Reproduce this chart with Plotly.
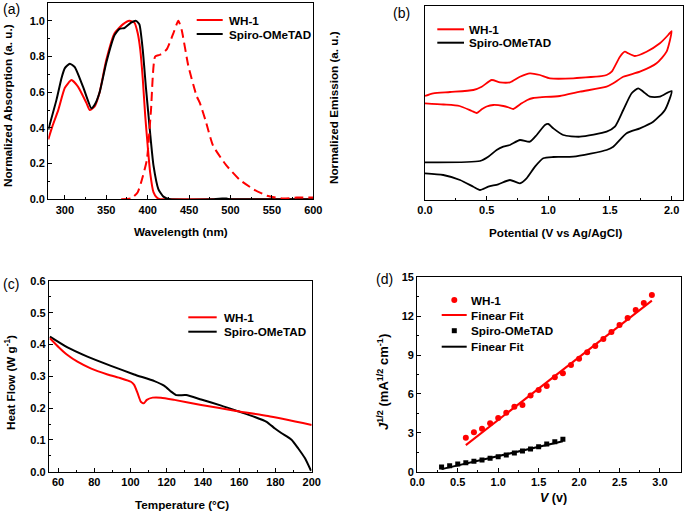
import plotly.graph_objects as go

W, H = 687, 512
RED = "#FF0000"
BLK = "#000000"
FONT = "Arial, Liberation Sans, sans-serif"

# ---------------- (a) absorption / emission ----------------
abs_wl_wh1 = [280, 285, 292, 300, 308, 316, 326, 330, 336, 342, 350, 360, 370, 378, 384, 388, 391, 394,
              397, 400, 403, 407, 411, 415, 420, 600]
abs_wh1 = [0.336, 0.41, 0.50, 0.625, 0.668, 0.63, 0.54, 0.50, 0.52, 0.60, 0.78, 0.93, 0.98, 1.0, 0.99,
           0.93, 0.84, 0.68, 0.47, 0.30, 0.15, 0.04, 0.01, 0.0, 0.0, 0.0]
abs_wl_spiro = [280, 290, 296, 300, 306, 312, 322, 332, 336, 342, 350, 360, 366, 372, 380, 386, 390, 394,
                398, 401, 404, 407, 413, 419, 427, 480, 490, 495, 500, 510, 600]
abs_spiro = [0.39, 0.56, 0.68, 0.735, 0.76, 0.74, 0.63, 0.51, 0.53, 0.60, 0.765, 0.92, 0.955, 0.96, 0.99,
             1.0, 0.98, 0.84, 0.62, 0.47, 0.32, 0.19, 0.056, 0.015, 0.0, 0.0, 0.004, 0.004, 0.0, 0.0, 0.0]
em_wl = [368, 380, 388, 393, 399, 404, 409, 415, 423, 431, 437, 441, 449, 459, 463, 470, 479, 495, 511,
         528, 544, 564, 580, 600]
em_wh1 = [0.0, 0.005, 0.04, 0.11, 0.22, 0.50, 0.80, 0.81, 0.84, 0.93, 1.0, 0.95, 0.75, 0.58, 0.54, 0.44,
          0.30, 0.19, 0.11, 0.056, 0.02, 0.004, 0.01, 0.01]

# ---------------- (b) cyclic voltammetry (arbitrary current units) ----------------
cv_v_wh1 = [0.0, 0.067, 0.203, 0.392, 0.46, 0.541, 0.608, 0.689, 0.77, 0.851, 0.932, 1.013, 1.202, 1.473,
            1.514, 1.581, 1.621, 1.648, 1.702, 1.797, 1.905, 1.972, 2.0,
            1.959, 1.878, 1.743, 1.608, 1.527, 1.473, 1.257, 1.094, 0.932, 0.878, 0.83, 0.784, 0.716,
            0.68, 0.635, 0.554, 0.50, 0.46, 0.42, 0.38, 0.28, 0.15, 0.0]
cv_i_wh1 = [104, 106.7, 108, 110, 113.3, 120, 117.7, 117.7, 123.3, 126.7, 125, 121.7, 121.7, 125,
            128.3, 143.3, 148.3, 146.7, 144, 148.3, 156.7, 165, 169,
            148.3, 136.7, 128.3, 123.3, 116.7, 113.3, 108.3, 104, 102.7, 102, 100, 96.7, 91,
            92.5, 94, 95, 93.5, 90.7, 87, 89, 94, 95.5, 96.7]
cv_v_spiro = [0.0, 0.446, 0.513, 0.581, 0.635, 0.689, 0.77, 0.851, 0.906, 0.973, 1.0, 1.04, 1.121, 1.257,
              1.473, 1.54, 1.608, 1.676, 1.729, 1.77, 1.824, 1.905, 2.0,
              1.946, 1.851, 1.743, 1.635, 1.527, 1.473, 1.202, 1.04, 0.959, 0.892, 0.824, 0.77, 0.689,
              0.594, 0.513, 0.446, 0.392, 0.284, 0.148, 0.0]
cv_i_spiro = [37.7, 39, 43.3, 50, 53.3, 55, 60, 58.3, 65, 75, 76, 71.7, 65, 63.3,
              68.3, 73.3, 90, 106.7, 111.7, 108.3, 103.3, 103.3, 109,
              90, 78.3, 71.7, 66.7, 53.3, 50, 43.3, 43, 41.7, 33.3, 21.7, 16.7, 20,
              15.7, 13.3, 10, 13.3, 20, 25, 26.7]

# ---------------- (c) DSC ----------------
dsc_t_wh1 = [55.5, 60.5, 65.2, 70.7, 78, 87.3, 94.6, 100.2, 102, 103.9, 105.7, 107.3, 109, 112.2, 116.8,
             124.2, 139, 157.5, 175.9, 200]
dsc_wh1 = [0.42, 0.391, 0.367, 0.346, 0.325, 0.306, 0.294, 0.283, 0.273, 0.247, 0.22, 0.215, 0.226,
           0.233, 0.233, 0.226, 0.21, 0.192, 0.175, 0.147]
dsc_t_spiro = [55.5, 65.2, 76.2, 89.2, 102, 113.2, 118.7, 122.4, 125.2, 130.7, 139, 150.1, 159.4, 168.6,
               175.1, 179.7, 183.4, 189, 192.6, 196.3, 199.6]
dsc_spiro = [0.425, 0.391, 0.362, 0.333, 0.306, 0.285, 0.27, 0.252, 0.241, 0.241, 0.227, 0.208, 0.19,
             0.172, 0.157, 0.136, 0.121, 0.10, 0.073, 0.042, 0.003]

# ---------------- (d) SCLC ----------------
v_wh1 = [0.6, 0.7, 0.8, 0.9, 1.0, 1.1, 1.2, 1.3, 1.4, 1.5, 1.6, 1.7, 1.8, 1.9, 2.0, 2.1, 2.2, 2.3, 2.4,
         2.5, 2.6, 2.7, 2.8, 2.9]
j_wh1 = [2.62, 3.04, 3.32, 3.73, 4.14, 4.55, 5.02, 5.15, 5.87, 6.30, 6.61, 7.28, 7.59, 8.23, 8.72, 9.21,
         9.70, 10.24, 10.78, 11.32, 11.86, 12.48, 13.02, 13.64]
fit_v_wh1 = [0.6, 2.9]
fit_j_wh1 = [2.05, 13.2]
v_spiro = [0.3, 0.4, 0.5, 0.6, 0.7, 0.8, 0.9, 1.0, 1.1, 1.2, 1.3, 1.4, 1.5, 1.6, 1.7, 1.8]
j_spiro = [0.36, 0.46, 0.59, 0.69, 0.80, 0.90, 1.03, 1.16, 1.29, 1.44, 1.60, 1.75, 1.93, 2.14, 2.32, 2.50]
fit_v_spiro = [0.3, 1.8]
fit_j_spiro = [0.2, 2.35]


def fx(x):
    return x / W


def fy(y):
    return 1 - y / H


fig = go.Figure()

line_kw = dict(mode="lines", showlegend=False, hoverinfo="skip")
fig.add_trace(go.Scatter(x=abs_wl_wh1, y=abs_wh1, line=dict(color=RED, width=2, shape="spline", smoothing=0.5),
                         xaxis="x", yaxis="y", **line_kw))
fig.add_trace(go.Scatter(x=abs_wl_spiro, y=abs_spiro, line=dict(color=BLK, width=2, shape="spline", smoothing=0.5),
                         xaxis="x", yaxis="y", **line_kw))
fig.add_trace(go.Scatter(x=em_wl, y=em_wh1, line=dict(color=RED, width=2, dash="9px,5px", shape="spline", smoothing=0.5),
                         xaxis="x", yaxis="y", **line_kw))

fig.add_trace(go.Scatter(x=cv_v_wh1, y=cv_i_wh1, line=dict(color=RED, width=1.8, shape="spline", smoothing=0.6),
                         xaxis="x2", yaxis="y2", **line_kw))
fig.add_trace(go.Scatter(x=cv_v_spiro, y=cv_i_spiro, line=dict(color=BLK, width=1.8, shape="spline", smoothing=0.6),
                         xaxis="x2", yaxis="y2", **line_kw))

fig.add_trace(go.Scatter(x=dsc_t_spiro, y=dsc_spiro, line=dict(color=BLK, width=2, shape="spline", smoothing=0.5),
                         xaxis="x3", yaxis="y3", **line_kw))
fig.add_trace(go.Scatter(x=dsc_t_wh1, y=dsc_wh1, line=dict(color=RED, width=2, shape="spline", smoothing=0.5),
                         xaxis="x3", yaxis="y3", **line_kw))

fig.add_trace(go.Scatter(x=fit_v_wh1, y=fit_j_wh1, line=dict(color=RED, width=2),
                         xaxis="x4", yaxis="y4", **line_kw))
fig.add_trace(go.Scatter(x=fit_v_spiro, y=fit_j_spiro, line=dict(color=BLK, width=2),
                         xaxis="x4", yaxis="y4", **line_kw))
fig.add_trace(go.Scatter(x=v_wh1, y=j_wh1, mode="markers", marker=dict(color=RED, size=6, symbol="circle"),
                         xaxis="x4", yaxis="y4", showlegend=False, hoverinfo="skip"))
fig.add_trace(go.Scatter(x=v_spiro, y=j_spiro, mode="markers", marker=dict(color=BLK, size=5, symbol="square"),
                         xaxis="x4", yaxis="y4", showlegend=False, hoverinfo="skip"))

tickfont = dict(family=FONT, size=11, color=BLK, weight="bold")


def ax(domain, rng, dtick, minor_dtick, anchor, showticks=True, fmt=None):
    d = dict(domain=domain, range=rng, anchor=anchor, showline=True, linecolor=BLK, linewidth=1.3,
             mirror=True, showgrid=False, zeroline=False, tickfont=tickfont, automargin=False,
             title=dict(text="", font=dict(family=FONT, size=11, color=BLK)))
    if showticks:
        d.update(ticks="inside", ticklen=4, tickwidth=1.2, tickcolor=BLK, dtick=dtick, tick0=0,
                 minor=dict(ticks="inside", ticklen=2, tickwidth=1, tickcolor=BLK, dtick=minor_dtick))
        if fmt:
            d["tickformat"] = fmt
    else:
        d.update(ticks="", showticklabels=False)
    return d


fig.update_layout(
    template="none",
    font=dict(family=FONT, size=11, color=BLK),
    width=W, height=H, margin=dict(l=0, r=0, t=0, b=0, pad=0, autoexpand=False),
    paper_bgcolor="white", plot_bgcolor="white", showlegend=False,
    xaxis=ax([fx(48.3), fx(313.3)], [280, 600], 50, 25, "y"),
    yaxis=ax([fy(199.3), fy(3)], [0, 1.1], 0.2, 0.1, "x", fmt=".1f"),
    xaxis2=ax([fx(425), fx(682.7)], [0, 2.09], 0.5, 0.25, "y2", fmt=".1f"),
    yaxis2=ax([fy(200), fy(6)], [0, 194], None, None, "x2", showticks=False),
    xaxis3=ax([fx(49), fx(311.7)], [55, 200], 20, 10, "y3"),
    yaxis3=ax([fy(471.7), fy(281)], [0, 0.6], 0.1, 0.05, "x3", fmt=".1f"),
    xaxis4=ax([fx(417.3), fx(681)], [0, 3.26], 0.5, 0.25, "y4", fmt=".1f"),
    yaxis4=ax([fy(471.7), fy(277.3)], [0, 15], 3, 1.5, "x4"),
)

annotations = []
shapes = []


def text(x, y, s, size=11.7, bold=True, angle=0, xanchor="center"):
    annotations.append(dict(x=fx(x), y=fy(y), xref="paper", yref="paper", text=s, showarrow=False,
                            textangle=angle, xanchor=xanchor, yanchor="middle",
                            font=dict(family=FONT, size=size, color=BLK, weight="bold" if bold else "normal")))


def legline(x0, x1, y, color):
    shapes.append(dict(type="line", xref="paper", yref="paper", x0=fx(x0), x1=fx(x1), y0=fy(y), y1=fy(y),
                       line=dict(color=color, width=2)))


# panel labels
text(11, 9, "(a)", size=14, bold=False)
text(401, 12.5, "(b)", size=14, bold=False)
text(11, 284, "(c)", size=14, bold=False)
text(384, 279, "(d)", size=14, bold=False)

# axis titles
text(7, 106, "Normalized Absorption (a. u.)", angle=-90)
text(333, 108, "Normalized Emission (a. u.)", angle=-90)
text(181, 231, "Wavelength (nm)")
text(555, 232, "Potential (V vs Ag/AgCl)")
text(10, 383, "Heat Flow (W g<sup>-1</sup>)", angle=-90)
text(182, 504, "Temperature (°C)")
text(383, 382, "<i>J</i><sup>1/2</sup> (mA<sup>1/2</sup> cm<sup>-1</sup>)", size=13, angle=-90)
text(553, 498, "<i>V</i> (v)", size=12.5)

# legend (a)
legline(196.7, 222.7, 20, RED)
text(226.7, 20, "WH-1", xanchor="left")
legline(196.7, 222.7, 34, BLK)
text(226.7, 34, "Spiro-OMeTAD", xanchor="left")
# legend (b)
legline(437.3, 464, 29.3, RED)
text(466.7, 29.3, "WH-1", xanchor="left")
legline(437.3, 464, 42.7, BLK)
text(466.7, 42.7, "Spiro-OMeTAD", xanchor="left")
# legend (c)
legline(188.3, 216.7, 317.3, RED)
text(221.7, 317.3, "WH-1", xanchor="left")
legline(188.3, 216.7, 331.7, BLK)
text(221.7, 331.7, "Spiro-OMeTAD", xanchor="left")
# legend (d)
shapes.append(dict(type="circle", xref="paper", yref="paper", x0=fx(451.3), x1=fx(457.3), y0=fy(297), y1=fy(303),
                   fillcolor=RED, line=dict(width=0)))
text(469.3, 300, "WH-1", xanchor="left")
legline(441.7, 466.7, 315, RED)
text(469.3, 315, "Finear Fit", xanchor="left")
shapes.append(dict(type="rect", xref="paper", yref="paper", x0=fx(451.8), x1=fx(456.8), y0=fy(328.2), y1=fy(333.2),
                   fillcolor=BLK, line=dict(width=0)))
text(469.3, 330.7, "Spiro-OMeTAD", xanchor="left")
legline(441.7, 466.7, 346.7, BLK)
text(469.3, 346.7, "Finear Fit", xanchor="left")

fig.update_layout(annotations=annotations, shapes=shapes)
post = "document.body.style.margin='0';document.body.style.overflow='hidden';"
fig.write_html("out.html", config={"displayModeBar": False}, post_script=post)
